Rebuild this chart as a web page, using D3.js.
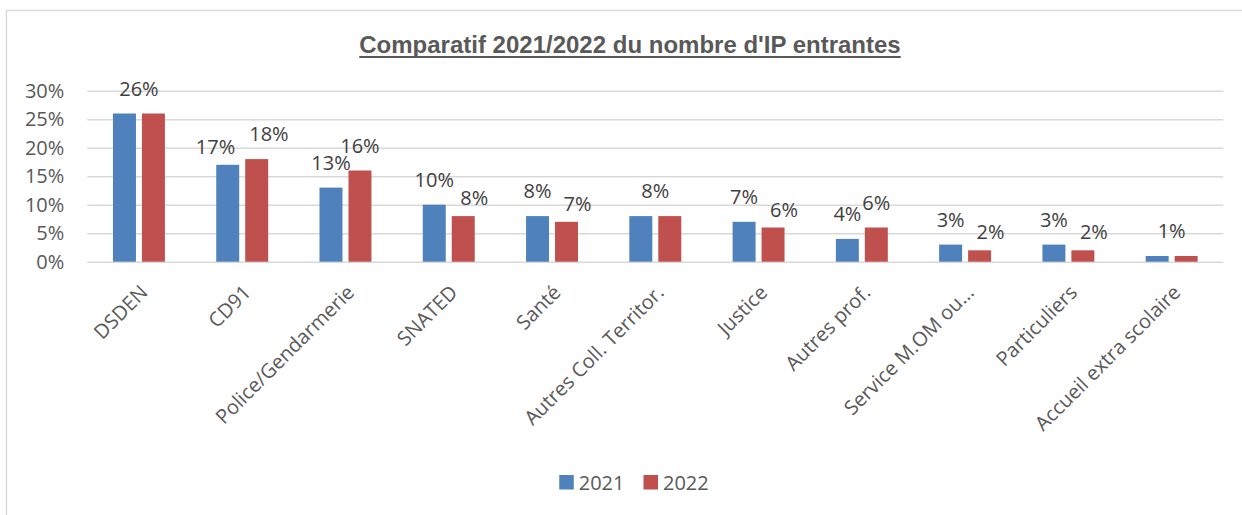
<!DOCTYPE html>
<html>
<head>
<meta charset="utf-8">
<script src="https://cdn.jsdelivr.net/npm/d3@7"></script>
<style>
  html, body { margin: 0; padding: 0; background: #ffffff; }
  svg { display: block; }
</style>
</head>
<body>
<svg id="chart" width="1242" height="515"></svg>
<script>
// ---- data ----
const categories = ["DSDEN", "CD91", "Police/Gendarmerie", "SNATED", "Santé",
  "Autres Coll. Territor.", "Justice", "Autres prof.", "Service M.OM ou...",
  "Particuliers", "Accueil extra scolaire"];
const series = ["2021", "2022"];
const values2021 = [0.26, 0.17, 0.13, 0.10, 0.08, 0.08, 0.07, 0.04, 0.03, 0.03, 0.01];
const values2022 = [0.26, 0.18, 0.16, 0.08, 0.07, 0.08, 0.06, 0.06, 0.02, 0.02, 0.01];
const yTicks = [0, 0.05, 0.10, 0.15, 0.20, 0.25, 0.30];
const titleText = "Comparatif 2021/2022 du nombre d'IP entrantes";

// ---- styles / layout ----
const colors = ["#4F81BD", "#C0504D"];
const font = "'Open Sans', sans-serif";
const plot = { left: 87.3, right: 1223.3, top: 90.7, bottom: 261.7 };

const svg = d3.select("#chart");
const fmt = d3.format(".0%");
const valuesBySeries = [values2021, values2022];

// outer border
svg.append("rect")
  .attr("x", 6.5).attr("y", 10.5)
  .attr("width", 1260).attr("height", 520)
  .attr("fill", "none").attr("stroke", "#D9D9D9").attr("stroke-width", 1.3);

// scales
const x0 = d3.scaleBand().domain(categories)
  .range([plot.left, plot.right]).paddingInner(0.497).paddingOuter(0.2485);
const x1 = d3.scaleBand().domain(series)
  .range([0, x0.bandwidth()]).paddingInner(6 / 29).paddingOuter(0);
const y = d3.scaleLinear().domain([0, 0.30]).range([plot.bottom, plot.top]);

// title
const title = svg.append("text")
  .attr("x", 630).attr("y", 53)
  .attr("text-anchor", "middle")
  .style("font-family", "'Liberation Sans', Arial, sans-serif")
  .style("font-weight", "bold").style("font-size", "24px")
  .attr("fill", "#595959")
  .text(titleText);
const tw = title.node().getComputedTextLength();
svg.append("line")
  .attr("x1", 630 - tw / 2).attr("x2", 630 + tw / 2)
  .attr("y1", 57).attr("y2", 57)
  .attr("stroke", "#595959").attr("stroke-width", 2);

// y axis with gridlines
const yAxis = svg.append("g")
  .attr("transform", `translate(${plot.left},0)`)
  .call(d3.axisLeft(y).tickValues(yTicks).tickFormat(fmt)
    .tickSize(-(plot.right - plot.left)).tickPadding(23));
yAxis.select(".domain").remove();
yAxis.selectAll(".tick line").attr("stroke", "#D9D9D9").attr("stroke-width", 1.4);
yAxis.selectAll(".tick text")
  .attr("fill", "#595959").style("font-family", font).style("font-size", "20px");

// x axis labels
const xAxis = svg.append("g")
  .attr("transform", `translate(0,${plot.bottom})`)
  .call(d3.axisBottom(x0).tickSize(0).tickPadding(0));
xAxis.select(".domain").remove();
xAxis.selectAll(".tick text")
  .attr("fill", "#595959").style("font-family", font).style("font-size", "20px")
  .attr("text-anchor", "end")
  .attr("x", 0).attr("y", 0).attr("dy", 0)
  .attr("transform", "translate(10,32) rotate(-45)");

// bars
const groups = svg.append("g").selectAll("g").data(categories).join("g")
  .attr("transform", d => `translate(${x0(d)},0)`);
groups.selectAll("rect")
  .data((d, i) => series.map((s, k) => ({ s, k, v: valuesBySeries[k][i] })))
  .join("rect")
  .attr("x", d => x1(d.s))
  .attr("y", d => y(d.v))
  .attr("width", x1.bandwidth())
  .attr("height", d => y(0) - y(d.v))
  .attr("fill", d => colors[d.k]);

// data labels with simple collision handling
const labels = svg.append("g")
  .style("font-family", font).style("font-size", "20px")
  .attr("fill", "#404040").attr("text-anchor", "middle");
categories.forEach((c, i) => {
  const v = [values2021[i], values2022[i]];
  const cx = series.map(s => x0(c) + x1(s) + x1.bandwidth() / 2);
  if (v[0] === v[1]) {
    labels.append("text")
      .attr("x", x0(c) + x0.bandwidth() / 2).attr("y", y(v[0]) - 18)
      .text(fmt(v[0]));
    return;
  }
  const t = v.map((val, k) => labels.append("text")
    .attr("x", cx[k]).attr("y", y(val) - 18).text(fmt(val)));
  const w = t.map(n => n.node().getComputedTextLength());
  const gap = cx[1] - cx[0];
  const barDiff = Math.abs(y(v[0]) - y(v[1]));
  const hOv = (w[0] + w[1]) / 2 + 6 - gap;
  const vOv = 20 - barDiff;
  if (hOv > 0 && vOv > 0 && hOv * vOv > 48) {
    const lo = v[0] < v[1] ? 0 : 1;
    const dir = lo === 0 ? -1 : 1;
    t[lo].attr("y", y(v[lo]) - 11);
    if (hOv > 12 && barDiff < 10) {
      const s = (hOv + 8) / 2;
      t[lo].attr("x", cx[lo] + dir * s);
      t[1 - lo].attr("x", cx[1 - lo] - dir * s);
    } else {
      const s = Math.max(11, hOv + 4 - 0.6 * barDiff);
      t[lo].attr("x", cx[lo] + dir * s);
    }
  }
});

// legend
const legend = svg.append("g")
  .style("font-family", font).style("font-size", "20px");
const items = legend.selectAll("g").data(series).join("g");
items.append("rect")
  .attr("width", 14.5).attr("height", 14.5).attr("y", 475)
  .attr("fill", (d, k) => colors[k]);
items.append("text")
  .attr("x", 19.5).attr("y", 490).attr("fill", "#595959")
  .text(d => d);
let cursor = 0;
const widths = [];
items.each(function () {
  const tw2 = d3.select(this).select("text").node().getComputedTextLength();
  widths.push(19.5 + tw2);
});
const total = d3.sum(widths) + 19 * (widths.length - 1);
let start = 634 - total / 2;
items.attr("transform", (d, k) => {
  const tx = start;
  start += widths[k] + 19;
  return `translate(${tx},0)`;
});
</script>
</body>
</html>
